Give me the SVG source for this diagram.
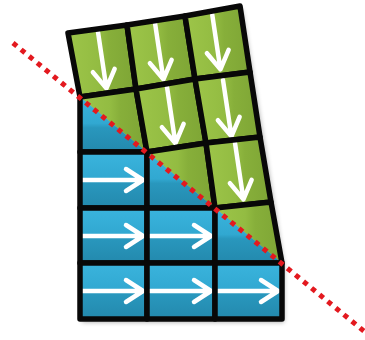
<svg xmlns="http://www.w3.org/2000/svg" xmlns:xlink="http://www.w3.org/1999/xlink" width="365" height="340" viewBox="0 0 365 340">
  <style>
    .g { fill: url(#green); }
    .b { fill: url(#blue); }
    .edge { fill: none; stroke: #080808; stroke-width: 5.5; stroke-linejoin: round; }
    .arw { fill: none; stroke: #ffffff; stroke-width: 4.5; stroke-linecap: round; stroke-linejoin: round; }
    .cut { fill: none; stroke: #e3191f; stroke-width: 5; stroke-dasharray: 5 5.44; }
  </style>
  <defs>
    <linearGradient id="green" x1="0" y1="0" x2="1" y2="0">
      <stop offset="0" stop-color="#9dc549"/>
      <stop offset="0.45" stop-color="#93bc42"/>
      <stop offset="0.6" stop-color="#87af3a"/>
      <stop offset="1" stop-color="#7ea535"/>
    </linearGradient>
    <linearGradient id="blue" x1="0" y1="0" x2="0" y2="1">
      <stop offset="0" stop-color="#3ab4dd"/>
      <stop offset="0.48" stop-color="#31a8d1"/>
      <stop offset="0.56" stop-color="#2997bd"/>
      <stop offset="1" stop-color="#2389ad"/>
    </linearGradient>
    <filter id="shadow" x="-10%" y="-10%" width="120%" height="120%">
      <feGaussianBlur stdDeviation="2.5"/>
    </filter>
    <path id="down" d="M0 0 V57 M-11 39 L0 57 L11 39"/>
    <path id="right" d="M0 0 H61 M44 -11 L61 0 L44 11"/>
  </defs>

  <!-- soft shadow under the whole grid -->
  <path d="M68 33 L240 6 L282 263 L282 319 L80 319 L80 97 Z" fill="#000" opacity="0.35" filter="url(#shadow)" transform="translate(2,3)"/>

  <g id="cells">
    <!-- row 0 -->
    <g id="cell-0-0">
      <polygon class="g" points="68,33 127,25 136,89 80,97"/>
      <use class="arw" xlink:href="#down" transform="translate(98,32) rotate(-8.5)"/>
      <polygon class="edge" points="68,33 127,25 136,89 80,97"/>
    </g>
    <g id="cell-1-0">
      <polygon class="g" points="127,25 185,16 195,79 136,89"/>
      <use class="arw" xlink:href="#down" transform="translate(155,23) rotate(-8.5)"/>
      <polygon class="edge" points="127,25 185,16 195,79 136,89"/>
    </g>
    <g id="cell-2-0">
      <polygon class="g" points="185,16 240,6 250,72 195,79"/>
      <use class="arw" xlink:href="#down" transform="translate(212,13) rotate(-8.5)"/>
      <polygon class="edge" points="185,16 240,6 250,72 195,79"/>
    </g>

    <!-- row 1 -->
    <g id="cell-0-1">
      <polygon class="g" points="80,97 136,89 147,152"/>
      <polygon class="b" points="80,97 147,152 80,152"/>
      <polygon class="edge" points="80,97 136,89 147,152 80,152"/>
    </g>
    <g id="cell-1-1">
      <polygon class="g" points="136,89 195,79 206,143 147,152"/>
      <use class="arw" xlink:href="#down" transform="translate(167,87) rotate(-8.5)"/>
      <polygon class="edge" points="136,89 195,79 206,143 147,152"/>
    </g>
    <g id="cell-2-1">
      <polygon class="g" points="195,79 250,72 260,137 206,143"/>
      <use class="arw" xlink:href="#down" transform="translate(223,80) rotate(-8.5)"/>
      <polygon class="edge" points="195,79 250,72 260,137 206,143"/>
    </g>

    <!-- row 2 -->
    <g id="cell-0-2">
      <polygon class="b" points="80,152 147,152 147,208 80,208"/>
      <use class="arw" xlink:href="#right" transform="translate(82,180)"/>
      <polygon class="edge" points="80,152 147,152 147,208 80,208"/>
    </g>
    <g id="cell-1-2">
      <polygon class="g" points="147,152 206,143 215,208"/>
      <polygon class="b" points="147,152 215,208 147,208"/>
      <polygon class="edge" points="147,152 206,143 215,208 147,208"/>
    </g>
    <g id="cell-2-2">
      <polygon class="g" points="206,143 260,137 271,202 215,208"/>
      <use class="arw" xlink:href="#down" transform="translate(235,143) rotate(-8.5)"/>
      <polygon class="edge" points="206,143 260,137 271,202 215,208"/>
    </g>

    <!-- row 3 -->
    <g id="cell-0-3">
      <polygon class="b" points="80,208 147,208 147,263 80,263"/>
      <use class="arw" xlink:href="#right" transform="translate(82,236)"/>
      <polygon class="edge" points="80,208 147,208 147,263 80,263"/>
    </g>
    <g id="cell-1-3">
      <polygon class="b" points="147,208 215,208 215,263 147,263"/>
      <use class="arw" xlink:href="#right" transform="translate(150,236)"/>
      <polygon class="edge" points="147,208 215,208 215,263 147,263"/>
    </g>
    <g id="cell-2-3">
      <polygon class="g" points="215,208 271,202 282,263"/>
      <polygon class="b" points="215,208 282,263 215,263"/>
      <polygon class="edge" points="215,208 271,202 282,263 215,263"/>
    </g>

    <!-- row 4 -->
    <g id="cell-0-4">
      <polygon class="b" points="80,263 147,263 147,319 80,319"/>
      <use class="arw" xlink:href="#right" transform="translate(82,291)"/>
      <polygon class="edge" points="80,263 147,263 147,319 80,319"/>
    </g>
    <g id="cell-1-4">
      <polygon class="b" points="147,263 215,263 215,319 147,319"/>
      <use class="arw" xlink:href="#right" transform="translate(150,291)"/>
      <polygon class="edge" points="147,263 215,263 215,319 147,319"/>
    </g>
    <g id="cell-2-4">
      <polygon class="b" points="215,263 282,263 282,319 215,319"/>
      <use class="arw" xlink:href="#right" transform="translate(217,291)"/>
      <polygon class="edge" points="215,263 282,263 282,319 215,319"/>
    </g>
  </g>

  <!-- dotted cut line across the diagonal -->
  <g id="connectors">
    <line class="cut" x1="13" y1="43" x2="365" y2="332"/>
  </g>
</svg>
